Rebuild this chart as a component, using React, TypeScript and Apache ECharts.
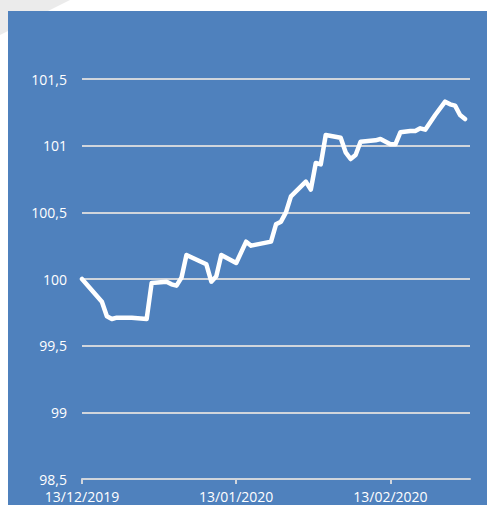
import React, { useEffect, useRef } from "react";
import * as echarts from "echarts";

const dates: string[] = [
  "2019-12-13", "2019-12-17", "2019-12-18", "2019-12-19", "2019-12-20", "2019-12-23",
  "2019-12-26", "2019-12-27", "2019-12-30", "2019-12-31", "2020-01-01", "2020-01-02",
  "2020-01-03", "2020-01-07", "2020-01-08", "2020-01-09", "2020-01-10", "2020-01-13",
  "2020-01-15", "2020-01-16", "2020-01-20", "2020-01-21", "2020-01-22", "2020-01-23",
  "2020-01-24", "2020-01-27", "2020-01-28", "2020-01-29", "2020-01-30", "2020-01-31",
  "2020-02-03", "2020-02-04", "2020-02-05", "2020-02-06", "2020-02-07", "2020-02-10",
  "2020-02-11", "2020-02-13", "2020-02-14", "2020-02-15", "2020-02-17", "2020-02-18",
  "2020-02-19", "2020-02-20", "2020-02-22", "2020-02-24", "2020-02-25", "2020-02-26",
  "2020-02-27", "2020-02-28",
];

const values: number[] = [
  100.0, 99.83, 99.72, 99.7, 99.71, 99.71,
  99.7, 99.97, 99.98, 99.96, 99.95, 100.01,
  100.18, 100.11, 99.98, 100.02, 100.18, 100.12,
  100.28, 100.25, 100.28, 100.41, 100.43, 100.5,
  100.62, 100.73, 100.67, 100.87, 100.86, 101.08,
  101.06, 100.95, 100.9, 100.93, 101.03, 101.04,
  101.05, 101.01, 101.01, 101.1, 101.11, 101.11,
  101.13, 101.12, 101.23, 101.33, 101.31, 101.3,
  101.23, 101.2,
];

const startDate = "2019-12-13";
const endDate = "2020-02-29";
const tickDays: number[] = [0, 31, 62];
const tickLabels: string[] = ["13/12/2019", "13/01/2020", "13/02/2020"];

const yMin = 98.5;
const yMax = 101.5;
const yStep = 0.5;

const DAY = 86400000;
const dayOffset = (d: string) =>
  Math.round((Date.parse(d + "T00:00:00Z") - Date.parse(startDate + "T00:00:00Z")) / DAY);

export default function App() {
  const ref = useRef<HTMLDivElement>(null);
  useEffect(() => {
    if (!ref.current) return;
    const chart = echarts.init(ref.current, null, { renderer: "svg" });
    const data = dates.map((d, i) => [dayOffset(d), values[i]]);
    const font = "'Open Sans', sans-serif";
    chart.setOption({
      animation: false,
      backgroundColor: "#ffffff",
      graphic: [
        {
          type: "polygon",
          z: -10,
          shape: { points: [[0, 0], [70, 0], [0, 35]] },
          style: { fill: "#EBEBEB" },
        },
        {
          type: "rect",
          z: -9,
          shape: { x: 8, y: 11, width: 479, height: 494 },
          style: { fill: "#4F81BD" },
        },
      ],
      grid: { left: 82, right: 17, top: 79, bottom: 26, containLabel: false },
      xAxis: {
        type: "value",
        min: 0,
        max: dayOffset(endDate),
        interval: 31,
        splitLine: { show: false },
        axisLine: { show: true, lineStyle: { color: "#D0D5DC", width: 2 } },
        axisTick: { show: true, length: 5, lineStyle: { color: "#D0D5DC", width: 2 } },
        axisLabel: {
          color: "#FFFFFF",
          fontFamily: font,
          fontSize: 14,
          margin: 10,
          showMaxLabel: false,
          formatter: (v: number) => {
            const i = tickDays.indexOf(v);
            return i >= 0 ? tickLabels[i] : "";
          },
        },
      },
      yAxis: {
        type: "value",
        min: yMin,
        max: yMax,
        interval: yStep,
        axisLine: { show: false },
        axisTick: { show: false },
        splitLine: { show: true, lineStyle: { color: "#D0D5DC", width: 2 } },
        axisLabel: {
          color: "#FFFFFF",
          fontFamily: font,
          fontSize: 14,
          margin: 15,
          formatter: (v: number) => String(+v.toFixed(1)).replace(".", ","),
        },
      },
      series: [
        {
          type: "line",
          data,
          showSymbol: false,
          symbol: "none",
          lineStyle: { color: "#FFFFFF", width: 4.5, join: "round", cap: "round" },
          z: 5,
        },
      ],
    });
    return () => chart.dispose();
  }, []);
  return (
    <div
      ref={ref}
      style={{ position: "fixed", left: 0, top: 0, width: 487, height: 505 }}
    />
  );
}
